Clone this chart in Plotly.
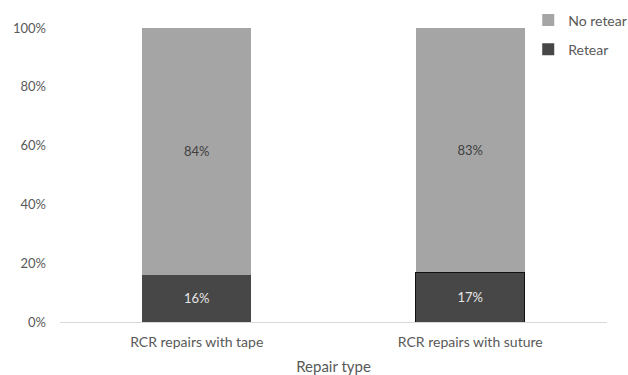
import plotly.graph_objects as go

categories = ["RCR repairs with tape", "RCR repairs with suture"]
retear = [16, 17]
no_retear = [84, 83]
series_names = ["Retear", "No retear"]
y_ticks = [0, 20, 40, 60, 80, 100]
y_tick_labels = ["0%", "20%", "40%", "60%", "80%", "100%"]

FONT = "Lato"

fig = go.Figure()
fig.add_trace(go.Bar(
    x=categories, y=[v / 100 for v in retear], name=series_names[0],
    legendgroup="retear", legendrank=2,
    marker=dict(color="#474747", line=dict(color="#111111", width=[0, 1])),
    text=[f"{v}%" for v in retear], textposition="inside", insidetextanchor="middle",
    textfont=dict(color="#e6e6e6", size=13, family=FONT),
    width=0.4,
))
fig.add_trace(go.Bar(
    x=categories, y=[v / 100 for v in no_retear], name=series_names[1],
    legendgroup="noretear", legendrank=1,
    marker=dict(color="#a5a5a5", line=dict(width=0)),
    text=[f"{v}%" for v in no_retear], textposition="inside", insidetextanchor="middle",
    textfont=dict(color="#404040", size=13, family=FONT),
    width=0.4,
))

fig.update_layout(
    barmode="stack",
    width=628, height=375,
    margin=dict(l=60, r=21, t=28, b=53, autoexpand=False),
    plot_bgcolor="white", paper_bgcolor="white",
    font=dict(family=FONT, color="#595959", size=13),
    showlegend=True,
    legend=dict(x=0.856, y=1.08, xanchor="left", yanchor="top",
                traceorder="grouped", tracegroupgap=8,
                font=dict(size=14, color="#595959", family=FONT),
                bgcolor="rgba(0,0,0,0)", itemwidth=30),
    xaxis=dict(range=[-0.5, 1.5], showline=True, linecolor="#d9d9d9", linewidth=1,
               ticks="", tickfont=dict(size=14, color="#595959"), ticklabelstandoff=7,
               title=dict(text="Repair type", font=dict(size=15, color="#595959"), standoff=13)),
    yaxis=dict(range=[0, 1], tickvals=[t / 100 for t in y_ticks], ticktext=y_tick_labels,
               showgrid=False, zeroline=False, showline=False,
               tickfont=dict(size=13, color="#595959"), ticklabelstandoff=13),
)

fig.write_html("out.html")
